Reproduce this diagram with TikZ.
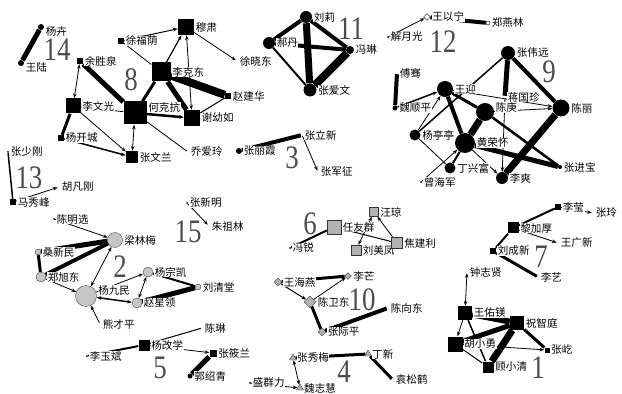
\documentclass[tikz,border=0pt]{standalone}
\usepackage{fontspec}
\usepackage{graphicx}
\newfontfamily\cjk{Noto Sans CJK SC}
\newfontfamily\numfont{Liberation Serif}
\usetikzlibrary{shapes.geometric, arrows.meta, positioning, backgrounds}
\newcommand{\grpnum}[1]{\scalebox{0.82}[1]{#1}}

\begin{document}
\begin{tikzpicture}[x=0.3mm, y=-0.3mm, >={Stealth[length=4pt,width=3pt]},
  every label/.style={font=\cjk\fontsize{9}{10}\selectfont, fill=white, inner sep=0.4pt},
  label distance=0.3mm,
  sq/.style={rectangle, fill=black, inner sep=0pt, minimum size=#1*0.3mm},
  gsq/.style={rectangle, fill=gray!60, draw=gray!40!black, line width=0.3pt, inner sep=0pt, minimum size=#1*0.3mm},
  dot/.style={circle, fill=black, inner sep=0pt, minimum size=#1*0.3mm},
  gdot/.style={circle, fill=gray!45, draw=gray!45!black, line width=0.3pt, inner sep=0pt, minimum size=#1*0.3mm},
  gdia/.style={diamond, fill=gray!60, draw=gray!40!black, line width=0.3pt, inner sep=0pt, minimum size=#1*0.3mm},
  gtri/.style={regular polygon, regular polygon sides=3, fill=gray!60, draw=gray!40!black, line width=0.3pt, inner sep=0pt, minimum size=#1*0.3mm},
  odia/.style={diamond, fill=white, draw=black, line width=0.4pt, inner sep=0pt, minimum size=#1*0.3mm},
  odot/.style={circle, fill=white, draw=black, line width=0.4pt, inner sep=0pt, minimum size=#1*0.3mm},
  pt/.style={circle, fill=black, inner sep=0pt, minimum size=0.6mm},
  ptx/.style={inner sep=0pt, minimum size=0.6mm},
  lw/.style={line width=#1*0.3mm},
  num/.style={font=\numfont\fontsize{28}{28}\selectfont, text=black!70, inner sep=0pt}]
  \useasboundingbox (0,0) rectangle (622,394);

  % 14
  \node[dot=6, label={[yshift=-4pt]right:杨卉}] (yh) at (41,27) {};
  \node[dot=6, label={[yshift=-4pt]right:王陆}] (wl) at (21,63) {};
  \node[num] (n14) at (57,50) {\grpnum{14}};

  % 8
  \node[sq=16, label=right:穆肃] (mus) at (186,27) {};
  \node[sq=6, label=right:徐福荫] (xfy) at (121,41) {};
  \node[sq=19, label=right:李克东] (lkd) at (161,72) {};
  \node[ptx, label=right:徐晓东] (xxd) at (237,61) {};
  \node[sq=6, label=right:赵建华] (zjh) at (228,96) {};
  \node[sq=6, label=right:余胜泉] (ysq) at (80,61) {};
  \node[sq=15, label=right:李文光] (lwg) at (73,106) {};
  \node[sq=23, label={[yshift=5pt]right:何克抗}] (hkk) at (135,113) {};
  \node[sq=16, label=right:谢幼如] (xyr) at (192,118) {};
  \node[sq=6, label=right:杨开城] (ykc) at (61,138) {};
  \node[sq=12, label=right:张文兰] (zwl) at (132,157) {};
  \node[ptx, label=right:乔爱玲] (qal) at (188,152) {};
  \node[num] (n8) at (131,80) {\grpnum{8}};

  % 11
  \node[dot=12, label=right:刘莉] (ll) at (306,17) {};
  \node[dot=12, label=right:郝丹] (hd) at (269,43) {};
  \node[dot=8, label=right:冯琳] (fl) at (350,50) {};
  \node[dot=13, label=right:张爱文] (zaw) at (310,90) {};
  \node[num] (n11) at (351,29) {\grpnum{11}};

  % 3
  \node[dot=6, label=right:张丽霞] (zlxia) at (239,151) {};
  \node[ptx, label=right:张立新] (zlxin) at (302,135) {};
  \node[ptx, label=right:张军征] (zjz) at (318,172) {};
  \node[num] (n3) at (292,158) {\grpnum{3}};

  % 12
  \node[odia=7, label=right:王以宁] (wyn) at (427,17) {};
  \node[odot=4, label=right:郑燕林] (zyl) at (488,23) {};
  \node[pt, label=right:解月光] (xyg) at (388,37) {};
  \node[num] (n12) at (443,42) {\grpnum{12}};

  % 9
  \node[dot=14, label=right:张伟远] (zwy) at (508,53) {};
  \node[dot=16, label=right:王迎] (wy) at (445,89) {};
  \node[ptx, label=right:傅骞] (fq) at (397,73) {};
  \node[dot=5, label=right:魏顺平] (wsp) at (395,108) {};
  \node[ptx, label=right:蒋国珍] (jgz) at (505,97) {};
  \node[dot=18, label={[yshift=4pt]right:陈庚}] (cg) at (485,112) {};
  \node[dot=17, label=right:陈丽] (cl) at (561,108) {};
  \node[dot=11, label=right:杨亭亭] (ytt) at (415,135) {};
  \node[dot=20, label=right:黄荣怀] (hrh) at (465,143) {};
  \node[dot=11, label=right:丁兴富] (dxf) at (450,168) {};
  \node[dot=12, label=right:李爽] (ls) at (502,178) {};
  \node[dot=4, label=right:张进宝] (zjb) at (560,167) {};
  \node[pt, label=right:曾海军] (zhj) at (421,182) {};
  \node[num] (n9) at (549,72) {\grpnum{9}};

  % 13
  \node[pt, label=right:张少刚] (zsg) at (8,152) {};
  \node[sq=6, label=right:马秀峰] (mxf) at (13,202) {};
  \node[ptx, label=right:胡凡刚] (hfg) at (59,187) {};
  \node[num] (n13) at (29,178) {\grpnum{13}};

  % 15
  \node[pt, label=right:张新明] (zxm) at (187,203) {};
  \node[ptx, label=right:朱祖林] (zzl) at (209,226) {};
  \node[num] (n15) at (188,232) {\grpnum{15}};

  % 2
  \node[gdot=15, label=right:梁林梅] (llm) at (115,240) {};
  \node[pt, label=right:陈明选] (cmx) at (54,219) {};
  \node[gdot=6, label=right:桑新民] (sxm) at (38,252) {};
  \node[gdot=10, label=right:郑旭东] (zxd) at (41,277) {};
  \node[gdot=21, label={[yshift=5pt]right:杨九民}] (yjm) at (86,296) {};
  \node[gdot=10, label=right:杨宗凯] (yzk) at (148,272) {};
  \node[gdot=6, label=right:刘清堂] (lqt) at (198,287) {};
  \node[gdot=10, label=right:赵星领] (zxl) at (137,303) {};
  \node[ptx, label=right:熊才平] (xcp) at (100,324) {};
  \node[num] (n2) at (120,267) {\grpnum{2}};

  % 5
  \node[sq=11, label=right:杨改学] (ygx) at (144,345) {};
  \node[ptx, label=right:陈琳] (cln) at (202,328) {};
  \node[pt, label=right:李玉斌] (lyb) at (87,356) {};
  \node[sq=7, label=right:张筱兰] (zxlan) at (213,353) {};
  \node[dot=5, label=right:郭绍青] (gshq) at (190,376) {};
  \node[num] (n5) at (160,368) {\grpnum{5}};

  % 6
  \node[gsq=14, label=right:任友群] (ryq) at (334,227) {};
  \node[gsq=9, label=right:汪琼] (wq) at (374,212) {};
  \node[gsq=10, label=right:刘美凤] (lmf) at (356,250) {};
  \node[gsq=11, label=right:焦建利] (jjl) at (397,243) {};
  \node[pt, label=right:冯锐] (fr) at (290,248) {};
  \node[num] (n6) at (310,224) {\grpnum{6}};

  % 10
  \node[gdia=8, label=right:王海燕] (why) at (278,282) {};
  \node[gdia=7, label=right:李芒] (lm) at (348,276) {};
  \node[gdia=12, label=right:陈卫东] (cwd) at (310,302) {};
  \node[gdia=8, label=right:张际平] (zjp) at (322,332) {};
  \node[ptx, label=right:陈向东] (cxd) at (388,308) {};
  \node[num] (n10) at (362,300) {\grpnum{10}};

  % 4
  \node[gtri=8, label=right:张秀梅] (zxmei) at (293,358) {};
  \node[gtri=8, label=right:丁新] (dx) at (368,354) {};
  \node[gtri=8, label=right:魏志慧] (wzh) at (300,388) {};
  \node[pt, label=right:盛群力] (sql) at (250,383) {};
  \node[ptx, label=right:袁松鹤] (ysh) at (393,380) {};
  \node[num] (n4) at (344,372) {\grpnum{4}};

  % 7
  \node[sq=6, label=right:李莹] (ly) at (558,207) {};
  \node[ptx, label=right:张玲] (zl) at (593,213) {};
  \node[sq=11, label=right:黎加厚] (ljh) at (513,228) {};
  \node[ptx, label=right:王广新] (wgx) at (558,243) {};
  \node[sq=6, label=right:刘成新] (lcx) at (493,251) {};
  \node[ptx, label=right:李艺] (lyi) at (538,277) {};
  \node[num] (n7) at (541,257) {\grpnum{7}};

  % 1
  \node[ptx, label=right:钟志贤] (zzx) at (467,272) {};
  \node[sq=14, label=right:王佑镁] (wym) at (465,313) {};
  \node[sq=14, label=right:祝智庭] (zzt) at (517,323) {};
  \node[sq=15, label=right:胡小勇] (hxy) at (455,344) {};
  \node[sq=11, label=right:顾小清] (gxq) at (488,367) {};
  \node[sq=5, label=right:张屹] (zy) at (547,350) {};
  \node[num] (n1) at (538,368) {\grpnum{1}};

  \begin{scope}[on background layer]
    \draw[lw=5] (yh) -- (wl);
    % 8
    \draw[->, lw=1] (xfy) -- (mus);
    \draw[->, lw=1.2] (lkd) -- (mus);
    \draw[<->, lw=0.8] (xyr) -- (mus);
    \draw[->, lw=0.8] (mus) -- (xxd);
    \draw[lw=0.8] (xfy) -- (lkd);
    \draw[lw=8] (lkd) -- (zjh);
    \draw[lw=5] (lkd) -- (xyr);
    \draw[lw=1] (zjh) -- (xyr);
    \draw[lw=3] (lkd) -- (hkk);
    \draw[->, lw=2.5] (hkk) -- (xyr);
    \draw[lw=5] (ysq) -- (hkk);
    \draw[<->, lw=0.8] (ysq) -- (lwg);
    \draw[->, lw=0.8] (hkk) -- (lwg);
    \draw[lw=3] (lwg) -- (ykc);
    \draw[->, lw=0.8] (lwg) -- (zwl);
    \draw[->, lw=1.5] (ykc) -- (zwl);
    \draw[<->, lw=0.8] (hkk) -- (zwl);
    \draw[lw=0.8] (hkk) -- (qal);
    % 11
    \draw[lw=4] (ll) -- (hd);
    \draw[lw=7] (ll) -- (zaw);
    \draw[lw=4] (ll) -- (fl);
    \draw[lw=2] (hd) -- (zaw);
    \draw[lw=8] (fl) -- (zaw);
    \draw[lw=4] (hd) -- (fl);
    % 3
    \draw[lw=4] (zlxia) -- (zlxin);
    \draw[->, lw=0.8] (zlxin) -- (zjz);
    % 12
    \draw[lw=4] (wyn) -- (zyl);
    \draw[->, lw=0.8] (xyg) -- (wyn);
    % 9
    \draw[lw=1.5] (zwy) -- (ytt);
    \draw[lw=5] (zwy) -- (jgz);
    \draw[lw=4] (zwy) -- (cl);
    \draw[lw=7] (cl) -- (ls);
    \draw[lw=7] (cg) -- (hrh);
    \draw[lw=5] (hrh) -- (zjb);
    \draw[lw=2.5] (cg) -- (zjb);
    \draw[lw=3] (wy) -- (cg);
    \draw[->, lw=0.8] (wy) -- (cl);
    \draw[->, lw=0.8] (cg) -- (cl);
    \draw[lw=4] (wy) -- (hrh);
    \draw[->, lw=1.5] (wsp) -- (wy);
    \draw[->, lw=0.8] (ytt) -- (wy);
    \draw[lw=0.8] (ytt) -- (dxf);
    \draw[->, lw=0.8] (zhj) -- (hrh);
    \draw[lw=2] (hrh) -- (dxf);
    \draw[->, lw=0.8] (hrh) -- (ls);
    \draw[->, lw=0.8] (jgz) -- (ls);
    \draw[lw=4] (fq) -- (wsp);
    % 13
    \draw[lw=1.5] (zsg) -- (mxf);
    \draw[->, lw=0.8] (mxf) -- (hfg);
    % 15
    \draw[->, lw=0.8] (zxm) -- (zzl);
    % 2
    \draw[->, lw=0.8] (cmx) -- (llm);
    \draw[lw=5] (sxm) -- (llm);
    \draw[lw=4] (zxd) -- (llm);
    \draw[lw=3] (sxm) -- (zxd);
    \draw[->, lw=0.8] (zxd) -- (yjm);
    \draw[<->, lw=0.8] (yjm) -- (llm);
    \draw[<->, lw=1.5] (yjm) -- (zxl);
    \draw[->, lw=0.8] (yjm) -- (yzk);
    \draw[<->, lw=0.8] (zxl) -- (yzk);
    \draw[lw=2] (yzk) -- (lqt);
    \draw[lw=5] (zxl) -- (lqt);
    \draw[->, lw=0.8] (xcp) -- (yjm);
    % 5
    \draw[lw=2] (lyb) -- (ygx);
    \draw[lw=1] (ygx) -- (cln);
    \draw[->, lw=0.8] (ygx) -- (zxlan);
    \draw[lw=5] (zxlan) -- (gshq);
    % 6
    \draw[lw=2] (fr) -- (ryq);
    \draw[lw=1] (ryq) -- (jjl);
    \draw[<->, lw=0.8] (lmf) -- (wq);
    \draw[->, lw=0.8] (jjl) -- (wq);
    % 10
    \draw[lw=3] (why) -- (lm);
    \draw[->, lw=1] (why) -- (cwd);
    \draw[->, lw=0.8] (cwd) -- (lm);
    \draw[lw=3] (cwd) -- (zjp);
    \draw[lw=4] (zjp) -- (cxd);
    % 4
    \draw[lw=3] (zxmei) -- (dx);
    \draw[lw=3] (dx) -- (ysh);
    \draw[<->, lw=0.8] (zxmei) -- (wzh);
    \draw[->, lw=0.8] (sql) -- (wzh);
    % 7
    \draw[lw=2] (ljh) -- (ly);
    \draw[->, lw=0.8] (ly) -- (zl);
    \draw[->, lw=0.8] (ljh) -- (wgx);
    \draw[lw=2] (lcx) -- (ljh);
    \draw[lw=3] (lcx) -- (lyi);
    % 1
    \draw[<->, lw=0.8] (zzx) -- (wym);
    \draw[lw=6] (wym) -- (zzt);
    \draw[lw=5] (hxy) -- (zzt);
    \draw[lw=7] (gxq) -- (zzt);
    \draw[lw=3] (zzt) -- (zy);
    \draw[->, lw=0.8] (hxy) -- (zy);
    \draw[->, lw=0.8] (wym) -- (hxy);
    \draw[lw=1.5] (wym) -- (gxq);
    \draw[lw=1] (hxy) -- (gxq);
  \end{scope}
\end{tikzpicture}
\end{document}
